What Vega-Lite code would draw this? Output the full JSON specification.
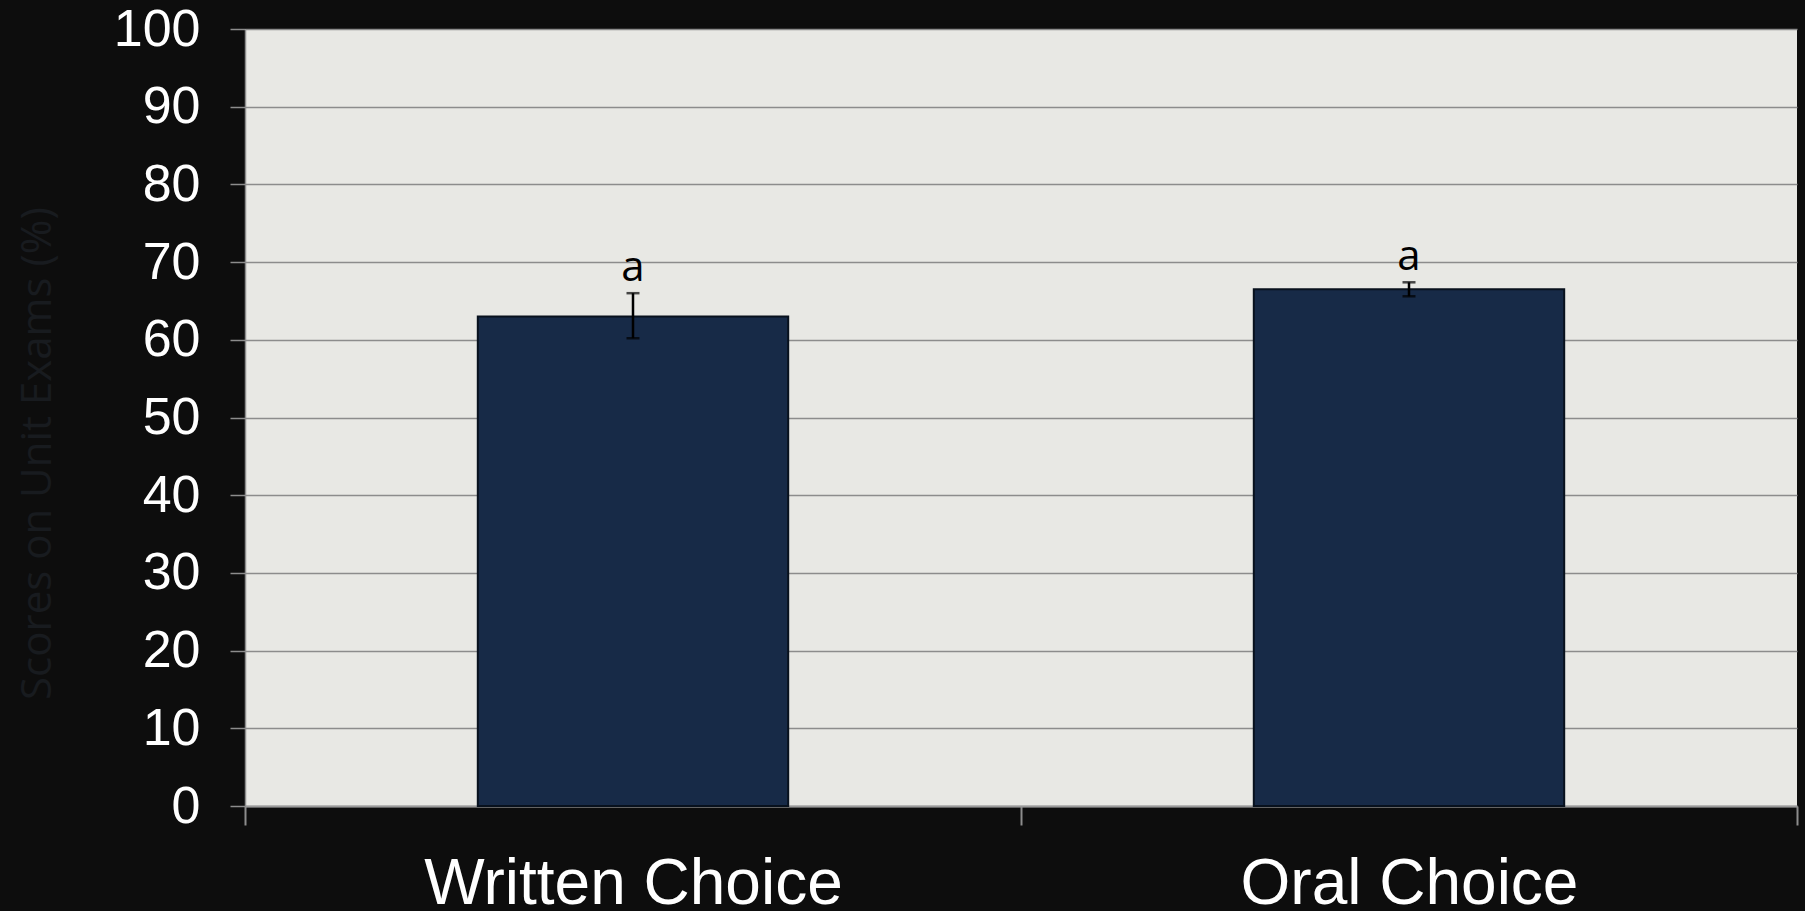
{
  "$schema": "https://vega.github.io/schema/vega-lite/v6.json",
  "autosize": {"type": "none"},
  "width": 1552,
  "height": 777,
  "padding": {"left": 245, "top": 29, "right": 8, "bottom": 105},
  "background": "#0d0d0d",
  "config": {"view": {"fill": "#e8e8e4", "stroke": null}},
  "data": {
    "values": [
      {"group": "Written Choice", "score": 63, "lower": 60.2, "upper": 66.0, "letter": "a"},
      {"group": "Oral Choice", "score": 66.5, "lower": 65.6, "upper": 67.4, "letter": "a"}
    ]
  },
  "encoding": {
    "x": {
      "field": "group",
      "type": "nominal",
      "sort": ["Written Choice", "Oral Choice"],
      "scale": {"paddingInner": 0, "paddingOuter": 0},
      "axis": {
        "title": null,
        "labelAngle": 0,
        "labelFont": "Liberation Sans",
        "labelFontSize": 64,
        "labelColor": "#ffffff",
        "labelBaseline": "top",
        "labelPadding": 27,
        "labelLimit": 1000,
        "tickSize": 19,
        "tickBand": "extent",
        "tickColor": "#8c8c8c",
        "tickWidth": 2,
        "domainColor": "#9a9a9a",
        "domainWidth": 2,
        "grid": false
      }
    }
  },
  "layer": [
    {
      "mark": {"type": "bar", "color": "#172a47", "stroke": "#08111d", "strokeWidth": 2, "width": {"band": 0.4}},
      "encoding": {
        "y": {
          "field": "score",
          "type": "quantitative",
          "scale": {"domain": [0, 100], "nice": false},
          "title": "Scores on Unit Exams (%)",
          "axis": {
            "title": "Scores on Unit Exams (%)",
            "values": [0, 10, 20, 30, 40, 50, 60, 70, 80, 90, 100],
            "grid": true,
            "gridColor": "#8c8c8c",
            "gridWidth": 1.5,
            "domain": true,
            "domainColor": "#8c8c8c",
            "domainWidth": 1.5,
            "tickColor": "#8c8c8c",
            "tickWidth": 1.5,
            "tickSize": 15,
            "labelFont": "Liberation Sans",
            "labelFontSize": 52,
            "labelColor": "#ffffff",
            "labelPadding": 30,
            "titleFont": "Open Sans",
            "titleFontSize": 42,
            "titleFontWeight": "normal",
            "titleColor": "#181b1f",
            "titleAngle": -90,
            "titleX": -195,
            "titleY": 424,
            "titleAlign": "center",
            "titleBaseline": "alphabetic"
          }
        }
      }
    },
    {
      "mark": {"type": "rule", "color": "#000000", "strokeWidth": 2.5},
      "encoding": {
        "y": {"field": "lower", "type": "quantitative", "title": "Scores on Unit Exams (%)"},
        "y2": {"field": "upper"}
      }
    },
    {
      "mark": {"type": "tick", "color": "#000000", "thickness": 2.5, "size": 13},
      "encoding": {
        "y": {"field": "upper", "type": "quantitative", "title": "Scores on Unit Exams (%)"}
      }
    },
    {
      "mark": {"type": "tick", "color": "#000000", "thickness": 2.5, "size": 13},
      "encoding": {
        "y": {"field": "lower", "type": "quantitative", "title": "Scores on Unit Exams (%)"}
      }
    },
    {
      "mark": {"type": "text", "dy": -12, "baseline": "alphabetic", "fontSize": 42, "font": "Open Sans", "color": "#000000"},
      "encoding": {
        "y": {"field": "upper", "type": "quantitative", "title": "Scores on Unit Exams (%)"},
        "text": {"field": "letter"}
      }
    }
  ]
}
